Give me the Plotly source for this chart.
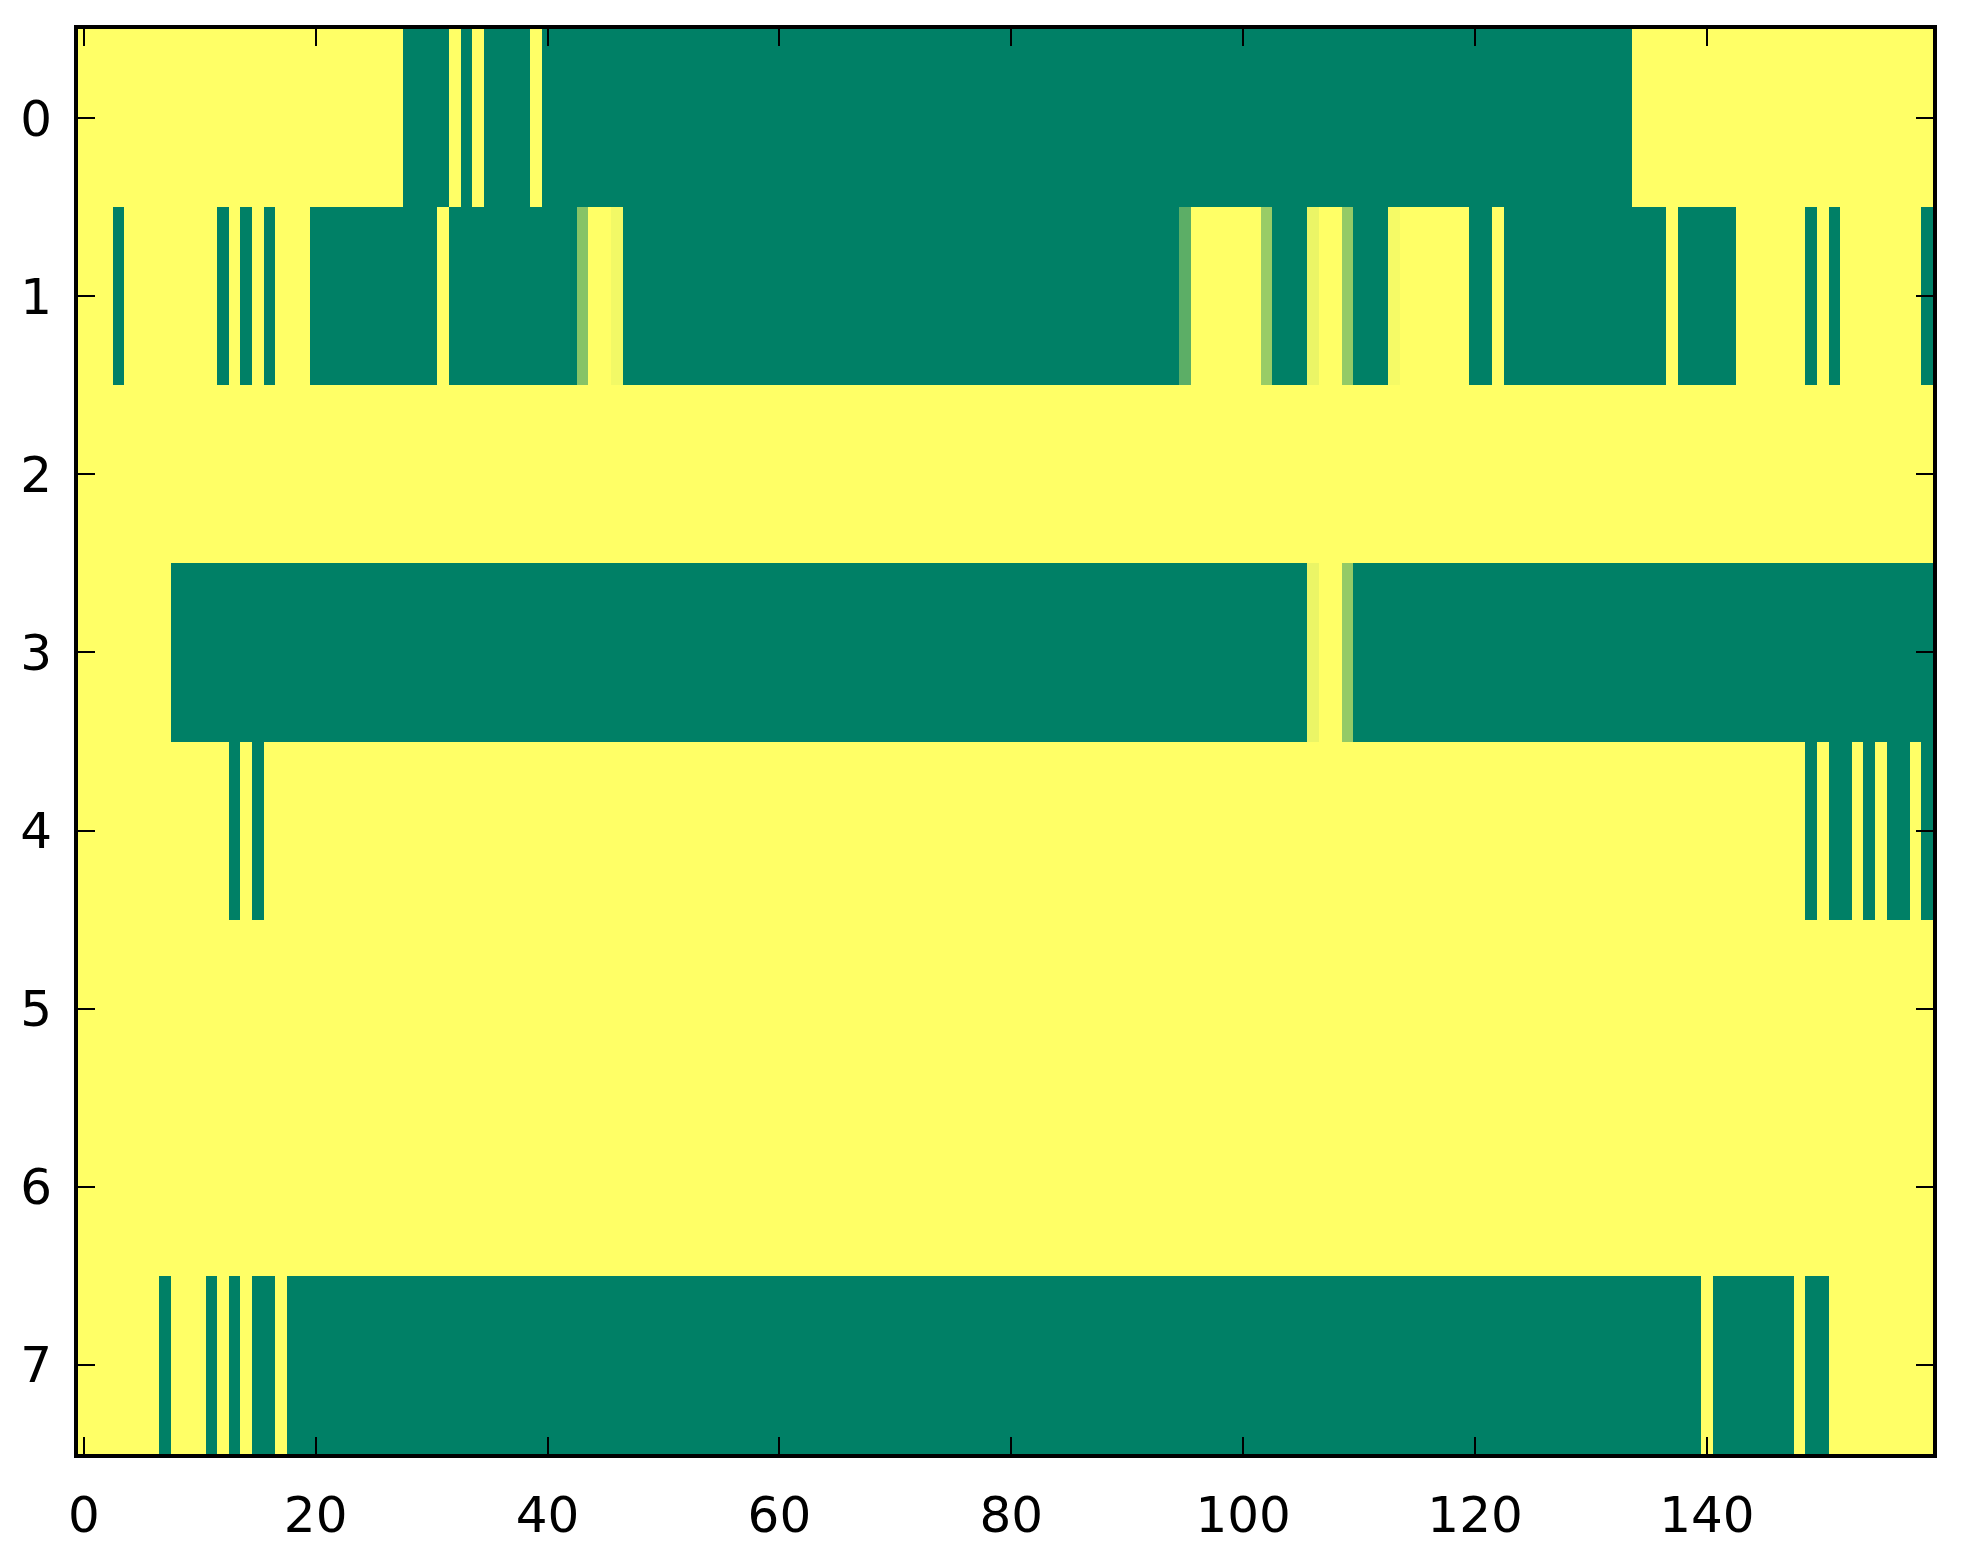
import numpy as np
import plotly.graph_objects as go

# each row is a list of (value, run length) pairs, left to right, 160 columns
row0 = [(1, 28), (0, 4), (1, 1), (0, 1), (1, 1), (0, 4), (1, 1), (0, 94), (1, 26)]
row1 = [(1, 3), (0, 1), (1, 8), (0, 1), (1, 1), (0, 1), (1, 1), (0, 1), (1, 3),
        (0, 11), (1, 1), (0, 11), (0.53, 1), (1, 2), (0.95, 1), (0, 48),
        (0.36, 1), (1, 6), (0.6, 1), (0, 3), (0.92, 1), (1, 2), (0.58, 1),
        (0, 3), (0.96, 1), (1, 6), (0, 2), (1, 1), (0, 14), (1, 1), (0, 5),
        (1, 6), (0, 1), (1, 1), (0, 1), (1, 7), (0, 1)]
row2 = [(1, 160)]
row3 = [(1, 8), (0, 98), (0.92, 1), (1, 2), (0.58, 1), (0, 50)]
row4 = [(1, 13), (0, 1), (1, 1), (0, 1), (1, 133), (0, 1), (1, 1), (0, 2),
        (1, 1), (0, 1), (1, 1), (0, 2), (1, 1), (0, 1)]
row5 = [(1, 160)]
row6 = [(1, 160)]
row7 = [(1, 7), (0, 1), (1, 3), (0, 1), (1, 1), (0, 1), (1, 1), (0, 2), (1, 1),
        (0, 122), (1, 1), (0, 7), (1, 1), (0, 2), (1, 9)]

rows = [row0, row1, row2, row3, row4, row5, row6, row7]
xTicks = [0, 20, 40, 60, 80, 100, 120, 140]
yTicks = [0, 1, 2, 3, 4, 5, 6, 7]

def expandRow(runs):
    out = []
    for val, count in runs:
        out += [val] * count
    return out

z = np.array([expandRow(r) for r in rows])

# matplotlib 'summer' colormap
summer = [[0, 'rgb(0,128,102)'], [1, 'rgb(255,255,102)']]

fig = go.Figure(go.Heatmap(
    z=z,
    x=list(range(z.shape[1])),
    y=list(range(z.shape[0])),
    colorscale=summer,
    zmin=0, zmax=1,
    showscale=False,
    hoverinfo='skip'))

axisStyle = dict(
    showgrid=False,
    zeroline=False,
    showline=True,
    linecolor='black',
    linewidth=4,
    mirror='ticks',
    ticks='inside',
    ticklen=17,
    tickwidth=2,
    tickcolor='black',
    tickfont=dict(family='DejaVu Sans', size=50, color='black'),
)

# page body adds an 8px margin, so the figure is a bit smaller than the window
fig.update_layout(
    width=1947,
    height=1548,
    paper_bgcolor='white',
    plot_bgcolor='white',
    margin=dict(l=65, r=22, t=21, b=88, pad=0),
    xaxis=dict(range=[-0.5, z.shape[1] - 0.5], tickvals=xTicks,
               ticklabelstandoff=14, **axisStyle),
    yaxis=dict(range=[7.5, -0.5], tickvals=yTicks,
               ticklabelstandoff=12, **axisStyle),
)

fig.write_html("out.html")
